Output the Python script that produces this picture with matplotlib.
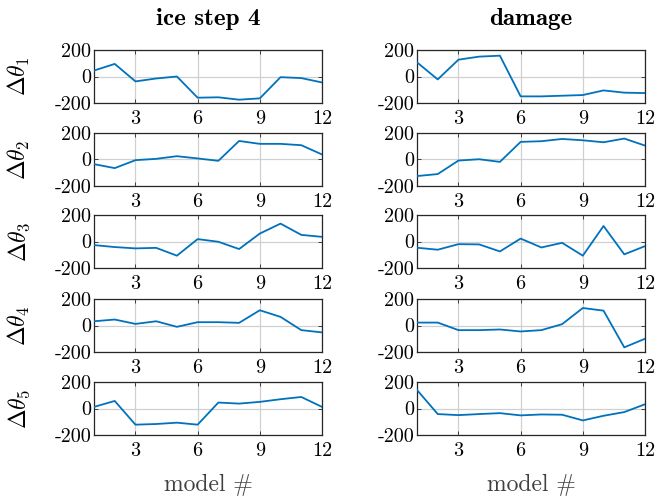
import matplotlib
matplotlib.use("Agg")
import matplotlib.pyplot as plt
from matplotlib.ticker import FixedLocator, FixedFormatter

plt.rcParams['mathtext.fontset'] = 'cm'
plt.rcParams['font.family'] = ['cmr10', 'DejaVu Serif']
plt.rcParams['axes.unicode_minus'] = False

models = list(range(1, 13))
col_titles = ["ice step 4", "damage"]
row_labels = [r"$\Delta\theta_1$", r"$\Delta\theta_2$", r"$\Delta\theta_3$",
              r"$\Delta\theta_4$", r"$\Delta\theta_5$"]
xtick_vals = [3, 6, 9, 12]
ytick_vals = [-200, 0, 200]
ytick_text = ["-200", "0", "200"]

ice_theta1 = [45, 95, -37, -15, 0, -160, -157, -175, -165, -5, -12, -45]
ice_theta2 = [-35, -65, -5, 5, 25, 8, -10, 140, 118, 118, 108, 38]
ice_theta3 = [-27, -42, -52, -48, -107, 18, -2, -57, 60, 135, 50, 35]
ice_theta4 = [32, 45, 12, 32, -10, 25, 25, 20, 115, 65, -35, -52]
ice_theta5 = [12, 57, -122, -117, -107, -122, 45, 37, 50, 70, 87, 12]

dmg_theta1 = [107, -22, 127, 150, 157, -150, -150, -145, -140, -105, -122, -125]
dmg_theta2 = [-125, -110, -8, 2, -18, 133, 138, 155, 145, 130, 158, 105]
dmg_theta3 = [-47, -62, -20, -22, -75, 22, -45, -10, -107, 117, -97, -35]
dmg_theta4 = [22, 22, -35, -35, -30, -45, -35, 10, 132, 112, -165, -100]
dmg_theta5 = [140, -42, -50, -42, -35, -52, -45, -47, -90, -55, -27, 32]

columns = [
    [ice_theta1, ice_theta2, ice_theta3, ice_theta4, ice_theta5],
    [dmg_theta1, dmg_theta2, dmg_theta3, dmg_theta4, dmg_theta5],
]

W, H = 656, 499
fig = plt.figure(figsize=(W / 100, H / 100), dpi=100)

col_left = [94, 417]
ax_w = 228
row_top = [50, 133, 215, 299, 382]
ax_h = 53
line_color = "#0072BD"
fs = 14.5

for c in range(2):
    for r in range(5):
        left = col_left[c] / W
        bottom = 1 - (row_top[r] + ax_h) / H
        ax = fig.add_axes([left, bottom, ax_w / W, ax_h / H])
        ax.plot(models, columns[c][r], color=line_color, lw=1.3, zorder=3)
        ax.set_xlim(1, 12)
        ax.set_ylim(-200, 200)
        ax.xaxis.set_major_locator(FixedLocator(xtick_vals))
        ax.yaxis.set_major_locator(FixedLocator(ytick_vals))
        ax.yaxis.set_major_formatter(FixedFormatter(ytick_text))
        ax.grid(True, color="#d0d0d0", lw=0.9, zorder=0)
        ax.tick_params(direction="in", length=3, width=0.6, top=True, right=True,
                       labelsize=fs, color="#262626")
        ax.tick_params(axis="x", pad=5)
        ax.tick_params(axis="y", pad=2)
        for s in ax.spines.values():
            s.set_linewidth(0.9)
            s.set_color("#262626")
        if c == 0:
            ax.set_ylabel(row_labels[r], fontsize=17, labelpad=16)
        if r == 0:
            ax.set_title(col_titles[c], fontsize=18, fontfamily="cmb10", pad=18)
        if r == 4:
            ax.set_xlabel("model #", fontsize=17, labelpad=10, color="#404040")

fig.savefig("out.png", dpi=100)
